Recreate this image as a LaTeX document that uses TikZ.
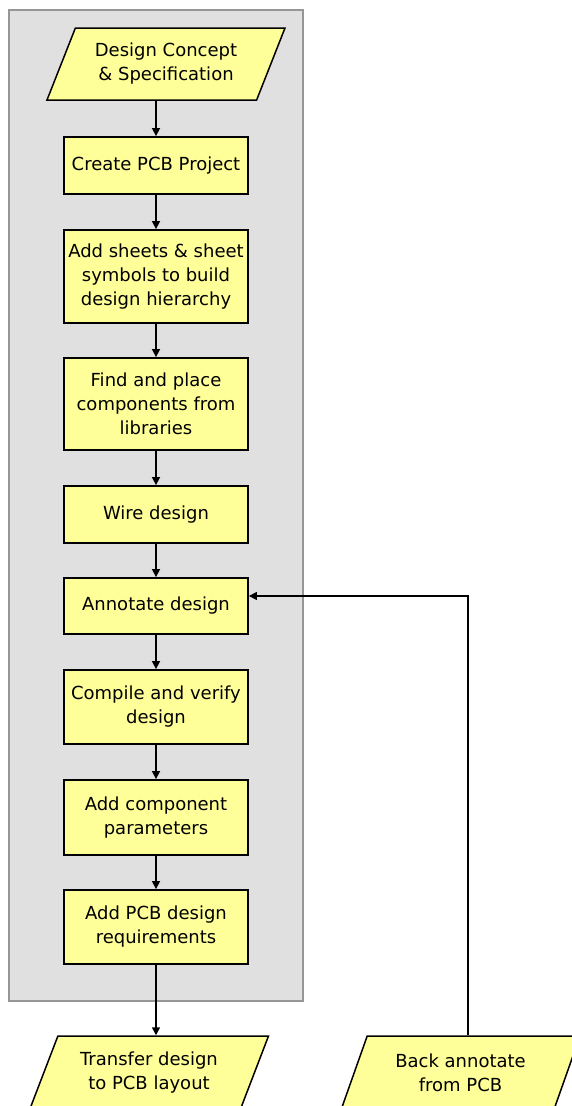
\documentclass[tikz,border=0pt]{standalone}
\usepackage{fontspec}
\setmainfont{DejaVu Sans}
\usetikzlibrary{arrows.meta,shapes.geometric}

\definecolor{flowyellow}{RGB}{255,255,153}
\definecolor{panelgray}{RGB}{224,224,224}
\definecolor{panelline}{RGB}{150,150,150}

\tikzset{
  procbox/.style={draw=black, line width=1.8pt, fill=flowyellow, minimum width=184pt,
    align=center, inner sep=2pt, font=\fontsize{18}{24}\selectfont},
  iobox/.style={draw=black, line width=1.5pt, fill=flowyellow, trapezium,
    trapezium left angle=58, trapezium right angle=122, trapezium stretches body=true,
    align=center, inner sep=2pt, font=\fontsize{18}{24}\selectfont},
  flowline/.style={line width=1.5pt, -{Triangle[length=8pt,width=8pt]}}
}

\begin{document}
\begin{tikzpicture}[x=1pt,y=1pt,yscale=-1]
\useasboundingbox (0,0) rectangle (572,1106);
\clip (0,0) rectangle (572,1106);

%Shape: Rectangle (schematic panel)
\draw [draw=panelline, fill=panelgray, line width=1.5pt] (9,10) rectangle (303,1001) ;

% Text Node
\node [iobox, minimum width=238pt, minimum height=72pt] (concept) at (166,64) {Design Concept\\\& Specification};
% Text Node
\node [procbox, minimum height=57pt] (create) at (156,165.5) {Create PCB Project};
% Text Node
\node [procbox, minimum height=93pt] (sheets) at (156,276.5) {Add sheets \& sheet\\symbols to build\\design hierarchy};
% Text Node
\node [procbox, minimum height=92pt] (place) at (156,404) {Find and place\\components from\\libraries};
% Text Node
\node [procbox, minimum height=57pt] (wire) at (156,514.5) {Wire design};
% Text Node
\node [procbox, minimum height=56pt] (annot) at (156,606) {Annotate design};
% Text Node
\node [procbox, minimum height=74pt] (verify) at (156,707) {Compile and verify\\design};
% Text Node
\node [procbox, minimum height=75pt] (params) at (156,817.5) {Add component\\parameters};
% Text Node
\node [procbox, minimum height=74pt] (rules) at (156,927) {Add PCB design\\requirements};
% Text Node
\node [iobox, minimum width=239pt, minimum height=74pt] (transfer) at (149,1073) {Transfer design\\to PCB layout};
% Text Node
\node [iobox, minimum width=239pt, minimum height=74pt] (back) at (460.5,1073) {Back annotate\\from PCB};

%Straight Lines
\draw [flowline] (concept.south -| create.north) -- (create) ;
\draw [flowline] (create) -- (sheets) ;
\draw [flowline] (sheets) -- (place) ;
\draw [flowline] (place) -- (wire) ;
\draw [flowline] (wire) -- (annot) ;
\draw [flowline] (annot) -- (verify) ;
\draw [flowline] (verify) -- (params) ;
\draw [flowline] (params) -- (rules) ;
\draw [flowline] (rules) -- (transfer.north -| rules.south) ;

%Straight Lines (back annotation)
\coordinate (turn) at (468,596) ;
\draw [flowline, line width=1.2pt] (back.north -| turn) -- (turn) -- (turn -| annot.east) ;

\end{tikzpicture}
\end{document}
